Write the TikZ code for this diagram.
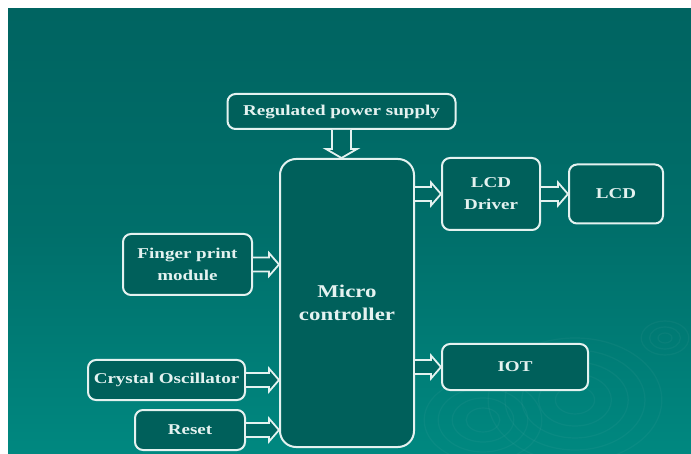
\documentclass[tikz,border=0pt]{standalone}
\usepackage{fontspec}
\setmainfont{Liberation Serif}
\usetikzlibrary{calc}
\definecolor{bgtop}{RGB}{0,100,97}
\definecolor{bgbot}{RGB}{0,136,128}
\definecolor{boxfill}{RGB}{0,96,91}
\definecolor{edge}{RGB}{228,242,240}
\definecolor{arrin}{RGB}{0,104,99}
\newcommand{\wide}[1]{\scalebox{1.27}[1]{#1}}
\tikzset{
  blk/.style={draw=edge, line width=2pt, fill=boxfill, rounded corners=8pt,
    text=edge, font=\fontsize{15}{22}\selectfont\bfseries, align=center,
    inner sep=0pt},
  barrow/.style={draw=edge, fill=arrin, line width=1.8pt, line join=miter},
  ripple/.style={draw=white, opacity=0.035, line width=1.2pt}
}
% horizontal block arrow from #1 to #2 (left to right)
\newcommand{\harr}[2]{%
  \path[barrow] let \p1=(#1), \p2=(#2) in
    (\x1,\y1+7pt) -- (\x2-10pt,\y1+7pt) -- (\x2-10pt,\y1+11.5pt) -- (\x2,\y1)
    -- (\x2-10pt,\y1-11.5pt) -- (\x2-10pt,\y1-7pt) -- (\x1,\y1-7pt);}
% vertical block arrow from #1 down to #2
\newcommand{\varr}[2]{%
  \path[barrow] let \p1=(#1), \p2=(#2) in
    (\x1-9.5pt,\y1) -- (\x1-9.5pt,\y2+9pt) -- (\x1-15.5pt,\y2+9pt) -- (\x1,\y2)
    -- (\x1+15.5pt,\y2+9pt) -- (\x1+9.5pt,\y2+9pt) -- (\x1+9.5pt,\y1);}
\begin{document}
\begin{tikzpicture}[x=1pt,y=-1pt]
\useasboundingbox (0,0) rectangle (691,454);
\fill[white] (0,0) rectangle (691,454);
\shade[top color=bgtop, bottom color=bgbot, middle color=bgtop!70!bgbot] (8,9) rectangle (691,454);
% ripples
\foreach \r in {12,22,32,42} \draw[ripple] (483,420) circle[x radius=1.4*\r, y radius=\r];
\foreach \r in {14,26,38,50,62} \draw[ripple] (575,400) circle[x radius=1.4*\r, y radius=\r];
\foreach \r in {5,11,17} \draw[ripple] (665,338) circle[x radius=1.4*\r, y radius=\r];

\node[blk, minimum width=228pt, minimum height=35pt] (power) at (341.5,111.5) {\wide{Regulated power supply}};
\node[blk, minimum width=134pt, minimum height=288pt, rounded corners=16pt,
      font=\fontsize{18}{23}\selectfont\bfseries] (mc) at (347,303) {\wide{Micro}\\\wide{controller}};
\node[blk, minimum width=98pt, minimum height=72pt] (lcdd) at (491,194) {\wide{LCD}\\\wide{Driver}};
\node[blk, minimum width=94pt, minimum height=59pt] (lcd) at (616,194) {\wide{LCD}};
\node[blk, minimum width=129pt, minimum height=61pt] (finger) at (187.5,264.5) {\wide{Finger print}\\\wide{module}};
\node[blk, minimum width=157pt, minimum height=40pt] (crystal) at (166.5,380) {\wide{Crystal Oscillator}};
\node[blk, minimum width=110pt, minimum height=40pt] (reset) at (190,430) {\wide{Reset}};
\node[blk, minimum width=146pt, minimum height=46pt] (iot) at (515,367) {\wide{IOT}};

\varr{power.south}{mc.north}
\harr{mc.east |- lcdd.west}{lcdd.west}
\harr{lcdd.east}{lcd.west}
\harr{finger.east}{mc.west |- finger.east}
\harr{crystal.east}{mc.west |- crystal.east}
\harr{reset.east}{mc.west |- reset.east}
\harr{mc.east |- iot.west}{iot.west}
\end{tikzpicture}
\end{document}
